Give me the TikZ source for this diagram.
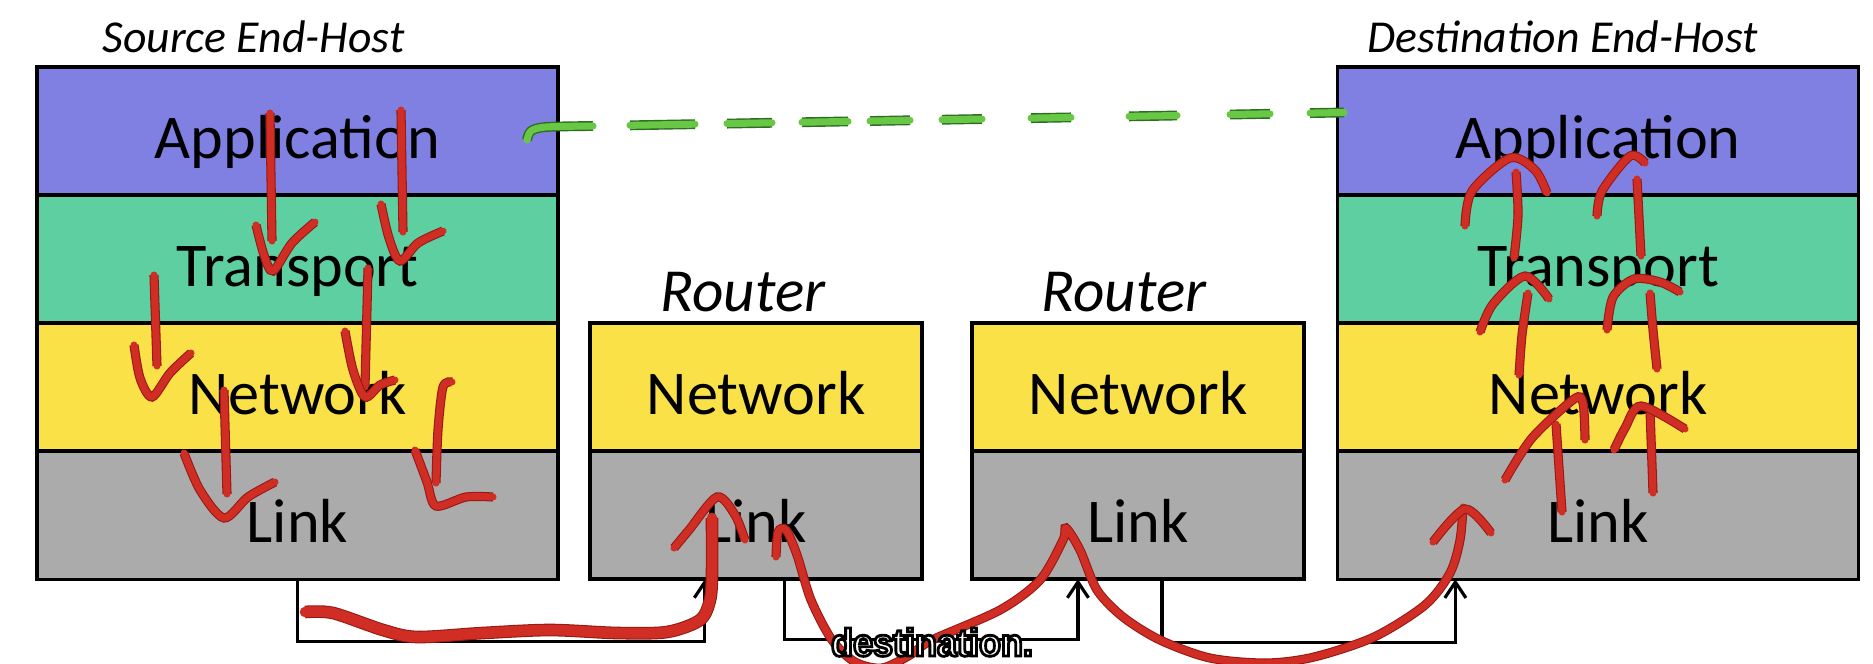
\documentclass[tikz,border=0pt]{standalone}
\usepackage{fontspec}
\setmainfont{Carlito}
\newfontfamily\capfont{Liberation Sans Bold}[FakeStretch=0.93]
\usetikzlibrary{arrows.meta, positioning, calc}
\definecolor{appblue}  {RGB}{127,128,226}
\definecolor{trgreen}  {RGB}{93,207,160}
\definecolor{netyellow}{RGB}{250,225,72}
\definecolor{linkgray} {RGB}{171,171,171}
\definecolor{penred}   {RGB}{208,46,36}
\definecolor{penedge}  {RGB}{150,25,20}
\definecolor{peergreen}{RGB}{104,200,70}
\definecolor{peeredge} {RGB}{45,110,35}

% white letters with a black rim
\newcommand{\rimtext}[1]{\special{pdf:code 2 Tr 0.8 w 0 G}#1\special{pdf:code 0 Tr}}

\tikzset{
  layer/.style={draw=black, line width=1pt, inner sep=0pt, outer sep=0pt,
                minimum height=1.28cm, text height=15.4pt, text depth=0pt,
                font=\fontsize{17.7}{20}\selectfont},
  hostlayer/.style={layer, minimum width=5.21cm},
  rtrlayer/.style={layer, minimum width=3.32cm},
  hosttitle/.style={font=\itshape\fontsize{13}{15}\selectfont,
                    anchor=base west, inner sep=0pt},
  rtrtitle/.style={font=\itshape\fontsize{17.4}{20}\selectfont,
                   anchor=base, inner sep=0pt},
  wire/.style={line width=0.9pt, -{Straight Barb[length=4.5pt,width=6pt]}},
  pen/.style={draw=penred, line width=2pt, line cap=round, line join=round,
              preaction={draw=penedge, line width=2.6pt}},
  peer/.style={draw=peergreen, line width=2pt, line cap=round,
               preaction={draw=peeredge, line width=2.8pt}}
}

\begin{document}
\begin{tikzpicture}[x=0.01cm, y=-0.01cm]
  \useasboundingbox (0,0) rectangle (1873,663);

  % end hosts
  \node[hostlayer, fill=appblue] (srcApp) at (297.5,131) {Application};
  \node[hostlayer, fill=trgreen, below=0pt of srcApp] (srcTrans) {Transport};
  \node[hostlayer, fill=netyellow, below=0pt of srcTrans] (srcNet) {Network};
  \node[hostlayer, fill=linkgray, below=0pt of srcNet] (srcLink) {Link};

  \node[hostlayer, fill=appblue] (dstApp) at (1598,131) {Application};
  \node[hostlayer, fill=trgreen, below=0pt of dstApp] (dstTrans) {Transport};
  \node[hostlayer, fill=netyellow, below=0pt of dstTrans] (dstNet) {Network};
  \node[hostlayer, fill=linkgray, below=0pt of dstNet] (dstLink) {Link};

  \node[hosttitle] (srcTitle) at (102,52) {Source End-Host};
  \node[hosttitle] (dstTitle) at (1367,52) {Destination End-Host};

  % routers
  \node[rtrlayer, fill=netyellow] (r1Net) at (756,387) {Network};
  \node[rtrlayer, fill=linkgray, below=0pt of r1Net] (r1Link) {Link};
  \node[rtrlayer, fill=netyellow] (r2Net) at (1138,387) {Network};
  \node[rtrlayer, fill=linkgray, below=0pt of r2Net] (r2Link) {Link};

  \node[rtrtitle] (r1Title) at (743,311) {Router};
  \node[rtrtitle] (r2Title) at (1124,311) {Router};

  % physical links
  \draw[wire] (srcLink.south) -- ++(0,62) -| ($(r1Link.south west)+(115,0)$);
  \draw[wire] ($(r1Link.south west)+(195,0)$) -- ++(0,60)
              -| ($(r2Link.south west)+(106,0)$);
  \draw[wire] ($(r2Link.south west)+(190,0)$) -- ++(0,63)
              -| ($(dstLink.south west)+(118,0)$);

  % peer line (hand drawn)
  \draw[peer] plot[smooth] coordinates {(527,140) (531,131) (546,127) (593,126)};
  \foreach \a/\b in {630/695, 727/772, 802/848, 870/910, 942/982,
                     1031/1071, 1129/1177, 1230/1270, 1310/1344}
    \draw[peer] (\a,{126-(\a-593)*0.018}) -- (\b,{126-(\b-593)*0.018});

  % going down the source stack
  \draw[pen] (270,113) -- (272,241);
  \draw[pen] plot[smooth] coordinates {(256,225) (264,255) (273,271) (292,243) (315,222)};
  \draw[pen] (401,110) -- (403,232);
  \draw[pen] plot[smooth] coordinates {(381,204) (389,238) (400,261) (418,243) (443,231)};
  \draw[pen] (154,275) -- (157,366);
  \draw[pen] plot[smooth] coordinates {(134,345) (140,378) (152,397) (170,373) (191,353)};
  \draw[pen] (368,268) -- (365,387);
  \draw[pen] plot[smooth] coordinates {(345,331) (353,370) (365,397) (380,385) (395,380)};
  \draw[pen] (224,390) -- (227,494);
  \draw[pen] plot[smooth] coordinates {(184,453) (200,490) (224,518) (248,497) (275,482)};
  \draw[pen] plot[smooth] coordinates {(452,382) (443,387) (438,430) (436,483)};
  \draw[pen] plot[smooth] coordinates {(415,450) (427,482) (436,506) (466,497) (493,497)};

  % across the routers
  \draw[pen, line width=3pt, preaction={draw=penedge, line width=3.6pt}]
    plot[smooth] coordinates {(305,612) (333,613) (383,630) (417,637) (483,633)
      (550,630) (617,633) (667,632) (700,620) (710,600) (712,573) (712,518)};
  \draw[pen] plot[smooth] coordinates {(674,548) (689,530) (717,497) (735,515) (745,540)};
  \draw[pen] plot[smooth, tension=0.5] coordinates {(776,557) (778,532) (786,530)
      (797,555) (811,600) (832,640) (855,662) (882,668) (910,655) (932,640)
      (1000,610) (1040,580) (1063,540) (1066,528) (1080,550) (1097,590)
      (1123,617) (1160,640) (1210,658) (1266,663) (1314,657) (1374,637)
      (1425,605) (1450,573) (1460,540) (1463,507)};
  \draw[pen] plot[smooth] coordinates {(1433,542) (1465,509) (1491,533)};

  % going up the destination stack
  \draw[pen] (1562,512) -- (1556,424);
  \draw[pen] plot[smooth] coordinates {(1505,480) (1532,438) (1574,399) (1583,403) (1585,440)};
  \draw[pen] (1653,493) -- (1650,410);
  \draw[pen] plot[smooth] coordinates {(1614,450) (1625,428) (1641,406) (1685,429)};
  \draw[pen] plot[smooth] coordinates {(1519,375) (1522,335) (1528,293)};
  \draw[pen] plot[smooth] coordinates {(1480,332) (1493,304) (1525,276) (1549,299)};
  \draw[pen] plot[smooth] coordinates {(1657,369) (1653,330) (1650,293)};
  \draw[pen] plot[smooth] coordinates {(1607,330) (1613,297) (1634,279) (1660,282) (1680,292)};
  \draw[pen] plot[smooth] coordinates {(1514,258) (1518,215) (1516,172)};
  \draw[pen] plot[smooth] coordinates {(1465,226) (1472,191) (1510,158) (1535,170) (1547,193)};
  \draw[pen] (1641,256) -- (1637,179);
  \draw[pen] plot[smooth] coordinates {(1597,216) (1602,191) (1630,156) (1645,163)};

  \node[font=\capfont\fontsize{11}{13}\selectfont, text=white,
        anchor=base, inner sep=0pt] (subtitle) at (932,656)
        {\rimtext{destination.}};
\end{tikzpicture}
\end{document}
